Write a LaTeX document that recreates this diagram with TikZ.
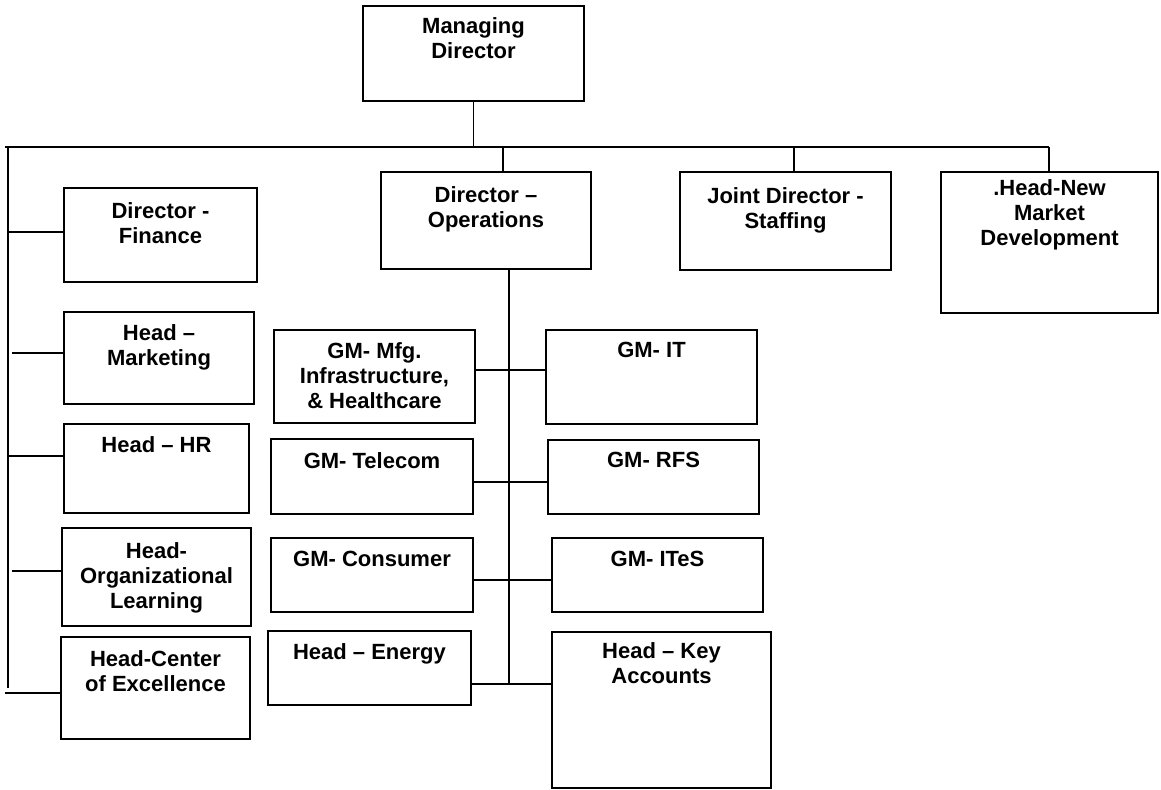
\documentclass[tikz,border=0pt]{standalone}
\usepackage{fontspec}
\setmainfont{Liberation Sans}
\usetikzlibrary{fit}

\tikzset{
  unit/.style={draw, line width=0.9pt, inner sep=0pt},
  caption/.style={anchor=north, align=center, inner sep=0pt, yshift=-#1,
    font=\bfseries\fontsize{11}{12.5}\selectfont},
  caption/.default=7pt,
  link/.style={line width=0.8pt}
}

\begin{document}
\begin{tikzpicture}[x=0.5pt, y=-0.5pt]

% Fix the page to the size of the chart
\useasboundingbox (0,0) rectangle (1161,789);

% Managing director at the top
\node[unit, fit={(363,6) (584,101)}] (md) {};
\node[caption=6pt] (md-txt) at (md.north) {Managing\\Director};

% Second row, hanging from the bus
\node[unit, fit={(381,172) (591,269)}] (ops) {};
\node[caption=7.5pt] (ops-txt) at (ops.north) {Director –\\Operations};
\node[unit, fit={(680,172) (891,270)}] (jnt) {};
\node[caption=8pt] (jnt-txt) at (jnt.north) {Joint Director -\\Staffing};
\node[unit, fit={(941,172) (1158,313)}] (nmd) {};
\node[caption=4pt] (nmd-txt) at (nmd.north) {.Head-New\\Market\\Development};

% Boxes on the left spine
\node[unit, fit={(64,188) (257,282)}] (fin) {};
\node[caption=7.5pt] (fin-txt) at (fin.north) {Director -\\Finance};
\node[unit, fit={(64,312) (254,404)}] (mkt) {};
\node[caption=6.5pt] (mkt-txt) at (mkt.north) {Head –\\Marketing};
\node[unit, fit={(64,424) (249,513)}] (hr) {};
\node[caption=6.5pt] (hr-txt) at (hr.north) {Head – HR};
\node[unit, fit={(62,528) (251,626)}] (orl) {};
\node[caption=7.5pt] (orl-txt) at (orl.north) {Head-\\Organizational\\Learning};
\node[unit, fit={(61,637) (250,739)}] (coe) {};
\node[caption] (coe-txt) at (coe.north) {Head-Center\\of Excellence};

% General managers under operations
\node[unit, fit={(274,330) (475,423)}] (mfg) {};
\node[caption=6.5pt] (mfg-txt) at (mfg.north) {GM- Mfg.\\Infrastructure,\\\& Healthcare};
\node[unit, fit={(546,330) (757,424)}] (it) {};
\node[caption=6.5pt] (it-txt) at (it.north) {GM- IT};
\node[unit, fit={(271,439) (473,514)}] (tel) {};
\node[caption] (tel-txt) at (tel.north) {GM- Telecom};
\node[unit, fit={(548,440) (759,514)}] (rfs) {};
\node[caption=6.5pt] (rfs-txt) at (rfs.north) {GM- RFS};
\node[unit, fit={(271,538) (473,612)}] (con) {};
\node[caption] (con-txt) at (con.north) {GM- Consumer};
\node[unit, fit={(552,538) (763,612)}] (ites) {};
\node[caption] (ites-txt) at (ites.north) {GM- ITeS};
\node[unit, fit={(268,631) (471,705)}] (eng) {};
\node[caption=6.5pt] (eng-txt) at (eng.north) {Head – Energy};
\node[unit, fit={(552,632) (771,788)}] (key) {};
\node[caption=5.5pt] (key-txt) at (key.north) {Head – Key\\Accounts};

% The bus under the managing director
\coordinate (bus-l) at (5,147);
\coordinate (bus-r) at (1049,147);
\draw[link] (bus-l) -- (bus-r);
\draw[link] (md.south) -- (md.south |- bus-l);

% Drops from the bus
\coordinate (d-ops) at (503,147);
\coordinate (d-jnt) at (794,147);
\draw[link] (d-ops) -- (d-ops |- ops.north);
\draw[link] (d-jnt) -- (d-jnt |- jnt.north);
\draw[link] (bus-r) -- (bus-r |- nmd.north);

% Left spine and its branches
\coordinate (sp-top) at (8,147);
\coordinate (sp-bot) at (8,688);
\draw[link] (sp-top) -- (sp-bot);
\coordinate (s-fin) at (8,232);
\coordinate (s-mkt) at (12,353);
\coordinate (s-hr) at (8,456);
\coordinate (s-orl) at (12,571);
\coordinate (s-coe) at (5,693);
\draw[link] (s-fin) -- (s-fin -| fin.west);
\draw[link] (s-mkt) -- (s-mkt -| mkt.west);
\draw[link] (s-hr) -- (s-hr -| hr.west);
\draw[link] (s-orl) -- (s-orl -| orl.west);
\draw[link] (s-coe) -- (s-coe -| coe.west);

% Spine under operations with its rows
\coordinate (r-mfg) at (509,370);
\coordinate (r-tel) at (509,482);
\coordinate (r-con) at (509,580);
\coordinate (r-eng) at (509,684);
\draw[link] (r-eng |- ops.south) -- (r-eng);
\draw[link] (r-mfg -| mfg.east) -- (r-mfg -| it.west);
\draw[link] (r-tel -| tel.east) -- (r-tel -| rfs.west);
\draw[link] (r-con -| con.east) -- (r-con -| ites.west);
\draw[link] (r-eng -| eng.east) -- (r-eng -| key.west);

\end{tikzpicture}
\end{document}
